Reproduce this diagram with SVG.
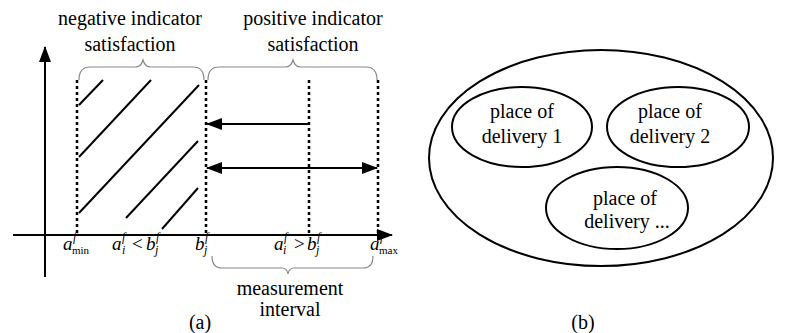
<svg xmlns="http://www.w3.org/2000/svg" width="795" height="333" viewBox="0 0 795 333">
<style>
.t{font-family:"Liberation Serif","DejaVu Serif",serif;font-size:20px;fill:#000}
.m{font-family:"Liberation Serif","DejaVu Serif",serif;font-style:italic;fill:#000}
.r{font-family:"Liberation Serif","DejaVu Serif",serif;fill:#000}
.ln{stroke:#000;stroke-width:2;fill:none}
.dash{stroke:#000;stroke-width:2.5;stroke-dasharray:3,3;fill:none}
.brace{stroke:#888;stroke-width:1.2;fill:none}
.el{stroke:#000;stroke-width:2;fill:#fff}
</style>
<defs>
<marker id="ah" markerWidth="16" markerHeight="12" refX="15" refY="6" orient="auto" markerUnits="userSpaceOnUse">
<path d="M0,0 L16,6 L0,12 Z" fill="#000"/>
</marker>
<marker id="ahs" markerWidth="16" markerHeight="12" refX="1" refY="6" orient="auto" markerUnits="userSpaceOnUse">
<path d="M16,0 L0,6 L16,12 Z" fill="#000"/>
</marker>
</defs>
<rect width="795" height="333" fill="#fff"/>

<g id="axes">
<line class="ln" x1="45" y1="277" x2="45" y2="47" marker-end="url(#ah)"/>
<line class="ln" x1="13" y1="235" x2="392" y2="235" marker-end="url(#ah)"/>
</g>

<g id="dashes">
<line class="dash" x1="77" y1="80" x2="77" y2="235"/>
<line class="dash" x1="206" y1="80" x2="206" y2="235"/>
<line class="dash" x1="309" y1="80" x2="309" y2="235"/>
<line class="dash" x1="378" y1="80" x2="378" y2="235"/>
</g>

<g id="hatch" stroke="#000" stroke-width="2">
<line x1="79" y1="105" x2="103" y2="80"/>
<line x1="79" y1="157" x2="151" y2="80"/>
<line x1="79" y1="213" x2="199" y2="85"/>
<line x1="126" y1="218" x2="198" y2="141"/>
<line x1="162" y1="229" x2="198" y2="188"/>
</g>

<g id="connectors">
<line class="ln" x1="309" y1="124" x2="207" y2="124" marker-end="url(#ah)"/>
<line class="ln" x1="207" y1="168" x2="377" y2="168" marker-start="url(#ahs)" marker-end="url(#ah)"/>
</g>

<g id="braces">
<path class="brace" d="M79,80 Q79,67 90,67 L135,67 Q141,67 143,60 Q145,67 151,67 L193,67 Q204,67 204,80"/>
<path class="brace" d="M208,80 Q208,67 219,67 L285,67 Q291,67 293,60 Q295,67 301,67 L366,67 Q377,67 377,80"/>
<path class="brace" d="M212,256 Q212,268 222,268 L282,268 Q287,268 288,274 Q289,268 294,268 L363,268 Q373,268 373,256"/>
</g>

<g id="labels-a">
<text class="t" x="130" y="25" text-anchor="middle">negative indicator</text>
<text class="t" x="130" y="51" text-anchor="middle">satisfaction</text>
<text class="t" x="313" y="25" text-anchor="middle">positive indicator</text>
<text class="t" x="313" y="51" text-anchor="middle">satisfaction</text>
<text class="t" x="290" y="295" text-anchor="middle">measurement</text>
<text class="t" x="290" y="316" text-anchor="middle">interval</text>
<text class="t" x="200" y="329" text-anchor="middle">(a)</text>
</g>

<g id="math">
<text class="m" font-size="19" x="63" y="250">a</text>
<text class="m" font-size="12" x="73" y="241">f</text>
<text class="r" font-size="11" x="72" y="254">min</text>

<text class="m" font-size="19" x="112" y="250">a</text>
<text class="m" font-size="12" x="122" y="241">f</text>
<text class="m" font-size="12" x="122" y="254">i</text>
<text class="r" font-size="19" x="132" y="250">&lt;</text>
<text class="m" font-size="19" x="146" y="250">b</text>
<text class="m" font-size="12" x="156" y="241">f</text>
<text class="m" font-size="12" x="155" y="254">j</text>

<text class="m" font-size="19" x="195" y="250">b</text>
<text class="m" font-size="12" x="205" y="241">f</text>
<text class="m" font-size="12" x="204" y="254">j</text>

<text class="m" font-size="19" x="274" y="250">a</text>
<text class="m" font-size="12" x="284" y="241">f</text>
<text class="m" font-size="12" x="283" y="254">i</text>
<text class="r" font-size="19" x="294" y="250">&gt;</text>
<text class="m" font-size="19" x="307" y="250">b</text>
<text class="m" font-size="12" x="317" y="241">f</text>
<text class="m" font-size="12" x="316" y="254">j</text>

<text class="m" font-size="19" x="370" y="250">a</text>
<text class="m" font-size="12" x="380" y="241">f</text>
<text class="r" font-size="11" x="379" y="254">max</text>
</g>

<g id="outer">
<ellipse class="el" cx="601" cy="158" rx="172" ry="108"/>
</g>
<g id="place1">
<ellipse class="el" cx="522" cy="127" rx="70" ry="40"/>
<text class="t" x="522" y="118" text-anchor="middle">place  of</text>
<text class="t" x="522" y="143" text-anchor="middle">delivery 1</text>
</g>
<g id="place2">
<ellipse class="el" cx="678" cy="127" rx="71" ry="40"/>
<text class="t" x="670" y="118" text-anchor="middle">place  of</text>
<text class="t" x="670" y="143" text-anchor="middle">delivery 2</text>
</g>
<g id="place3">
<ellipse class="el" cx="617" cy="208" rx="71" ry="41"/>
<text class="t" x="625" y="205" text-anchor="middle">place of</text>
<text class="t" x="627" y="228" text-anchor="middle">delivery ...</text>
</g>
<text class="t" x="583" y="329" text-anchor="middle">(b)</text>
</svg>
